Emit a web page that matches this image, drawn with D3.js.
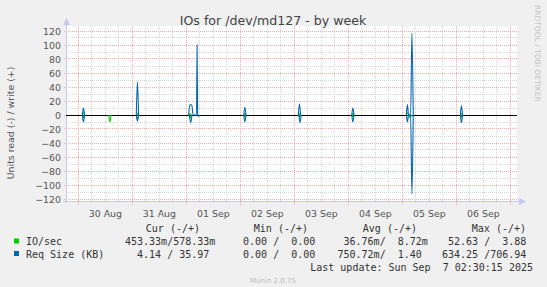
<!DOCTYPE html>
<html>
<head>
<meta charset="utf-8">
<script src="https://cdn.jsdelivr.net/npm/d3@7"></script>
<style>
  html, body { margin: 0; padding: 0; background: #f0f0f0; }
  svg { display: block; }
</style>
</head>
<body>
<div id="chart"></div>
<script>
var yTicks = [-120, -100, -80, -60, -40, -20, 0, 20, 40, 60, 80, 100, 120];
var dayLabels = ["30 Aug", "31 Aug", "01 Sep", "02 Sep", "03 Sep", "04 Sep", "05 Sep", "06 Sep"];
var timeStart = "2025-08-29 18:30";
var timeEnd = "2025-09-07 02:30";

// IO/sec (green): write is drawn up, read is drawn down
var ioWrite = [
  ["2025-08-30 01:45", 0], ["2025-08-30 02:15", 3], ["2025-08-30 02:45", 0],
  ["2025-08-31 01:45", 0], ["2025-08-31 02:15", 2], ["2025-08-31 02:45", 0],
  ["2025-09-01 01:15", 0], ["2025-09-01 01:45", 2], ["2025-09-01 02:15", 0],
  ["2025-09-02 01:30", 0], ["2025-09-02 02:00", 2], ["2025-09-02 02:30", 0],
  ["2025-09-03 01:45", 0], ["2025-09-03 02:15", 2], ["2025-09-03 02:45", 0],
  ["2025-09-04 01:30", 0], ["2025-09-04 02:00", 2], ["2025-09-04 02:30", 0],
  ["2025-09-05 01:45", 0], ["2025-09-05 02:15", 3], ["2025-09-05 02:45", 0],
  ["2025-09-06 01:45", 0], ["2025-09-06 02:15", 2], ["2025-09-06 02:45", 0]
];
var ioRead = [
  ["2025-08-30 01:45", 0], ["2025-08-30 02:15", -4], ["2025-08-30 02:45", 0],
  ["2025-08-30 13:30", 0], ["2025-08-30 14:00", -10], ["2025-08-30 14:30", 0],
  ["2025-08-31 01:45", 0], ["2025-08-31 02:15", -6], ["2025-08-31 02:45", 0],
  ["2025-09-01 01:15", 0], ["2025-09-01 01:45", -4], ["2025-09-01 02:15", 0],
  ["2025-09-02 01:30", 0], ["2025-09-02 02:00", -3], ["2025-09-02 02:30", 0],
  ["2025-09-03 01:45", 0], ["2025-09-03 02:15", -3], ["2025-09-03 02:45", 0],
  ["2025-09-04 01:30", 0], ["2025-09-04 02:00", -3], ["2025-09-04 02:30", 0],
  ["2025-09-05 03:00", 0], ["2025-09-05 03:30", -4], ["2025-09-05 04:00", 0],
  ["2025-09-06 01:45", 0], ["2025-09-06 02:15", -3], ["2025-09-06 02:45", 0]
];

// Req Size (KB) (blue)
var reqWrite = [
  ["2025-08-30 01:45", 0], ["2025-08-30 02:15", 10], ["2025-08-30 02:45", 0],
  ["2025-08-31 01:45", 0], ["2025-08-31 02:15", 47], ["2025-08-31 02:45", 0],
  ["2025-09-01 01:00", 0], ["2025-09-01 01:35", 15], ["2025-09-01 02:25", 14], ["2025-09-01 03:00", 0],
  ["2025-09-01 04:30", 0], ["2025-09-01 04:45", 100], ["2025-09-01 05:00", 0],
  ["2025-09-02 01:30", 0], ["2025-09-02 02:00", 11], ["2025-09-02 02:30", 0],
  ["2025-09-03 01:45", 0], ["2025-09-03 02:15", 16], ["2025-09-03 02:45", 0],
  ["2025-09-04 01:30", 0], ["2025-09-04 02:00", 10], ["2025-09-04 02:30", 0],
  ["2025-09-05 01:45", 0], ["2025-09-05 02:15", 15], ["2025-09-05 02:45", 0],
  ["2025-09-05 03:40", 0], ["2025-09-05 04:15", 117], ["2025-09-05 04:50", 0],
  ["2025-09-06 01:45", 0], ["2025-09-06 02:15", 13], ["2025-09-06 02:45", 0]
];
var reqRead = [
  ["2025-08-30 01:45", 0], ["2025-08-30 02:15", -10], ["2025-08-30 02:45", 0],
  ["2025-08-31 01:45", 0], ["2025-08-31 02:15", -9], ["2025-08-31 02:45", 0],
  ["2025-09-01 01:20", 0], ["2025-09-01 01:55", -11], ["2025-09-01 02:30", 0],
  ["2025-09-01 05:00", 0], ["2025-09-01 05:25", -2], ["2025-09-01 05:50", 0],
  ["2025-09-02 01:30", 0], ["2025-09-02 02:00", -10], ["2025-09-02 02:30", 0],
  ["2025-09-03 02:00", 0], ["2025-09-03 02:30", -11], ["2025-09-03 03:00", 0],
  ["2025-09-04 01:30", 0], ["2025-09-04 02:00", -10], ["2025-09-04 02:30", 0],
  ["2025-09-05 01:45", 0], ["2025-09-05 02:15", -10], ["2025-09-05 02:45", 0],
  ["2025-09-05 03:40", 0], ["2025-09-05 04:15", -113], ["2025-09-05 04:50", 0],
  ["2025-09-06 01:45", 0], ["2025-09-06 02:15", -11], ["2025-09-06 02:45", 0]
];

// Legend table
var legendNames = ["IO/sec", "Req Size (KB)"];
var legendHeaders = ["Cur (-/+)", "Min (-/+)", "Avg (-/+)", "Max (-/+)"];
var legendCur = ["453.33m/578.33m", "  4.14 / 35.97 "];
var legendMin = ["  0.00 /  0.00 ", "  0.00 /  0.00 "];
var legendAvg = [" 36.76m/  8.72m", "750.72m/  1.40 "];
var legendMax = [" 52.63 /  3.88 ", "634.25 /706.94 "];
var lastUpdate = "Last update: Sun Sep  7 02:30:15 2025";

var colors = ["#00cc00", "#0066b3"];

var W = 547, H = 287;
var plot = { left: 66, right: 516, top: 26, bottom: 201 };
var parseTime = d3.timeParse("%Y-%m-%d %H:%M");
var sans = "'DejaVu Sans', sans-serif";
var mono = "'DejaVu Sans Mono', monospace";

// keep runs of spaces in the monospace legend
function keepSpaces(s) { return s.replace(/ /g, "\u00a0"); }

var svg = d3.select("#chart").append("svg")
  .attr("width", W)
  .attr("height", H);

svg.append("rect").attr("width", W).attr("height", H).attr("fill", "#f0f0f0");

// Scales
var x = d3.scaleTime()
  .domain([parseTime(timeStart), parseTime(timeEnd)])
  .range([plot.left, plot.right]);
var y = d3.scaleLinear()
  .domain([-120, 120])
  .range([199, 31]);

function px(v) { return Math.floor(v) + 0.5; }

// Plot background
svg.append("rect")
  .attr("x", plot.left).attr("y", plot.top)
  .attr("width", plot.right + 1 - plot.left).attr("height", plot.bottom - plot.top)
  .attr("fill", "#ffffff");

var grid = svg.append("g");
var minorColor = "#d6d6d6";
var majorColor = "#f2aaaa";

// minor horizontal grid between the labelled values
grid.selectAll("line.hmin")
  .data(d3.range(-110, 120, 20))
  .enter().append("line")
  .attr("x1", plot.left).attr("x2", plot.right + 1)
  .attr("y1", function (d) { return px(y(d)); })
  .attr("y2", function (d) { return px(y(d)); })
  .attr("stroke", minorColor).attr("stroke-dasharray", "1,1");

// minor vertical grid every 6 hours
var sixHours = x.ticks(d3.timeHour.every(6)).filter(function (d) { return d.getHours() !== 0; });
grid.selectAll("line.vmin")
  .data(sixHours)
  .enter().append("line")
  .attr("x1", function (d) { return px(x(d)); })
  .attr("x2", function (d) { return px(x(d)); })
  .attr("y1", plot.top).attr("y2", plot.bottom + 2)
  .attr("stroke", minorColor).attr("stroke-dasharray", "1,1");

// major horizontal grid at tick values
grid.selectAll("line.hmaj")
  .data(yTicks)
  .enter().append("line")
  .attr("x1", plot.left - 2).attr("x2", plot.right + 1)
  .attr("y1", function (d) { return px(y(d)); })
  .attr("y2", function (d) { return px(y(d)); })
  .attr("stroke", majorColor).attr("stroke-dasharray", "1,1");

// major vertical grid at midnight
var midnights = x.ticks(d3.timeDay.every(1));
grid.selectAll("line.vmaj")
  .data(midnights)
  .enter().append("line")
  .attr("x1", function (d) { return px(x(d)); })
  .attr("x2", function (d) { return px(x(d)); })
  .attr("y1", plot.top).attr("y2", plot.bottom + 4)
  .attr("stroke", majorColor).attr("stroke-dasharray", "1,1");

// Axes lines with arrows
var axisColor = "#c6c6f0";
svg.append("line")
  .attr("x1", plot.left + 0.5).attr("x2", plot.left + 0.5)
  .attr("y1", plot.bottom + 2).attr("y2", 22)
  .attr("stroke", axisColor);
svg.append("path")
  .attr("d", "M" + (plot.left - 3) + ",25 L" + (plot.left + 4) + ",25 L" + (plot.left + 0.5) + ",18 Z")
  .attr("fill", axisColor);
svg.append("line")
  .attr("x1", plot.left - 3).attr("x2", plot.right + 4)
  .attr("y1", plot.bottom + 0.5).attr("y2", plot.bottom + 0.5)
  .attr("stroke", axisColor);
svg.append("path")
  .attr("d", "M" + (plot.right + 3) + "," + (plot.bottom - 3) + " L" + (plot.right + 3) + "," + (plot.bottom + 4) +
    " L" + (plot.right + 10) + "," + (plot.bottom + 0.5) + " Z")
  .attr("fill", axisColor);

// Y axis labels
var yAxis = d3.axisLeft(y).tickValues(yTicks).tickSize(0).tickPadding(0);
var yG = svg.append("g")
  .attr("transform", "translate(61,0)")
  .call(yAxis);
yG.select(".domain").remove();
yG.selectAll("text")
  .attr("font-family", sans).attr("font-size", "9.4px").attr("fill", "#555");

// X axis day labels at noon
var parseDay = d3.timeParse("%d %b %Y");
svg.append("g").selectAll("text")
  .data(dayLabels)
  .enter().append("text")
  .attr("x", function (d) { return x(d3.timeHour.offset(parseDay(d + " 2025"), 12)); })
  .attr("y", 217)
  .attr("text-anchor", "middle")
  .attr("font-family", sans).attr("font-size", "9.4px").attr("fill", "#555")
  .text(function (d) { return d; });

// Zero line
svg.append("line")
  .attr("x1", plot.left).attr("x2", plot.right + 1)
  .attr("y1", px(y(0))).attr("y2", px(y(0)))
  .attr("stroke", "#000");

// Series lines, one path per spike
var line = d3.line()
  .x(function (d) { return x(parseTime(d[0])); })
  .y(function (d) { return y(d[1]); })
  .curve(d3.curveMonotoneX);

function segments(points) {
  var out = [], cur = [];
  points.forEach(function (p, i) {
    if (i > 0 && parseTime(p[0]) - parseTime(points[i - 1][0]) > 2 * 3600 * 1000) {
      out.push(cur);
      cur = [];
    }
    cur.push(p);
  });
  out.push(cur);
  return out;
}

var seriesList = [
  { data: ioWrite, color: colors[0] },
  { data: ioRead, color: colors[0] },
  { data: reqWrite, color: colors[1] },
  { data: reqRead, color: colors[1] }
];
seriesList.forEach(function (s) {
  svg.append("g").selectAll("path")
    .data(segments(s.data))
    .enter().append("path")
    .attr("d", line)
    .attr("fill", "none")
    .attr("stroke", s.color)
    .attr("stroke-width", 1.1);
});

// Title
svg.append("text")
  .attr("x", 273).attr("y", 25)
  .attr("text-anchor", "middle")
  .attr("font-family", sans).attr("font-size", "12.6px").attr("fill", "#444")
  .text("IOs for /dev/md127 - by week");

// Vertical axis title
svg.append("text")
  .attr("transform", "translate(14,123) rotate(-90)")
  .attr("text-anchor", "middle")
  .attr("font-family", sans).attr("font-size", "9.4px").attr("fill", "#555")
  .text("Units read (-) / write (+)");

// Watermark
svg.append("text")
  .attr("transform", "translate(535,5) rotate(90)")
  .attr("font-family", sans).attr("font-size", "7.5px").attr("fill", "#c4c4c4")
  .text("RRDTOOL / TOBI OETIKER");

// Legend
var legend = svg.append("g")
  .attr("font-family", mono).attr("font-size", "10px").attr("fill", "#333");

var headerEnds = [200, 308, 417, 526];
legend.selectAll("text.hdr")
  .data(legendHeaders)
  .enter().append("text")
  .attr("x", function (d, i) { return headerEnds[i]; })
  .attr("y", 232)
  .attr("text-anchor", "end")
  .text(function (d) { return keepSpaces(d); });

var colStarts = [125, 231, 337.5, 442];
var rowY = [245, 257.5];
legendNames.forEach(function (name, r) {
  legend.append("rect")
    .attr("x", 14).attr("y", rowY[r] - 6.5)
    .attr("width", 5).attr("height", 5)
    .attr("fill", colors[r]);
  legend.append("text").attr("x", 26).attr("y", rowY[r]).text(keepSpaces(name));
  [legendCur, legendMin, legendAvg, legendMax].forEach(function (col, c) {
    legend.append("text")
      .attr("x", colStarts[c]).attr("y", rowY[r])
      .text(keepSpaces(col[r]));
  });
});

legend.append("text")
  .attr("x", 533).attr("y", 270.5)
  .attr("text-anchor", "end")
  .text(keepSpaces(lastUpdate));

svg.append("text")
  .attr("x", 273).attr("y", 283)
  .attr("text-anchor", "middle")
  .attr("font-family", sans).attr("font-size", "7px").attr("fill", "#bbb")
  .text("Munin 2.0.75");
</script>
</body>
</html>
